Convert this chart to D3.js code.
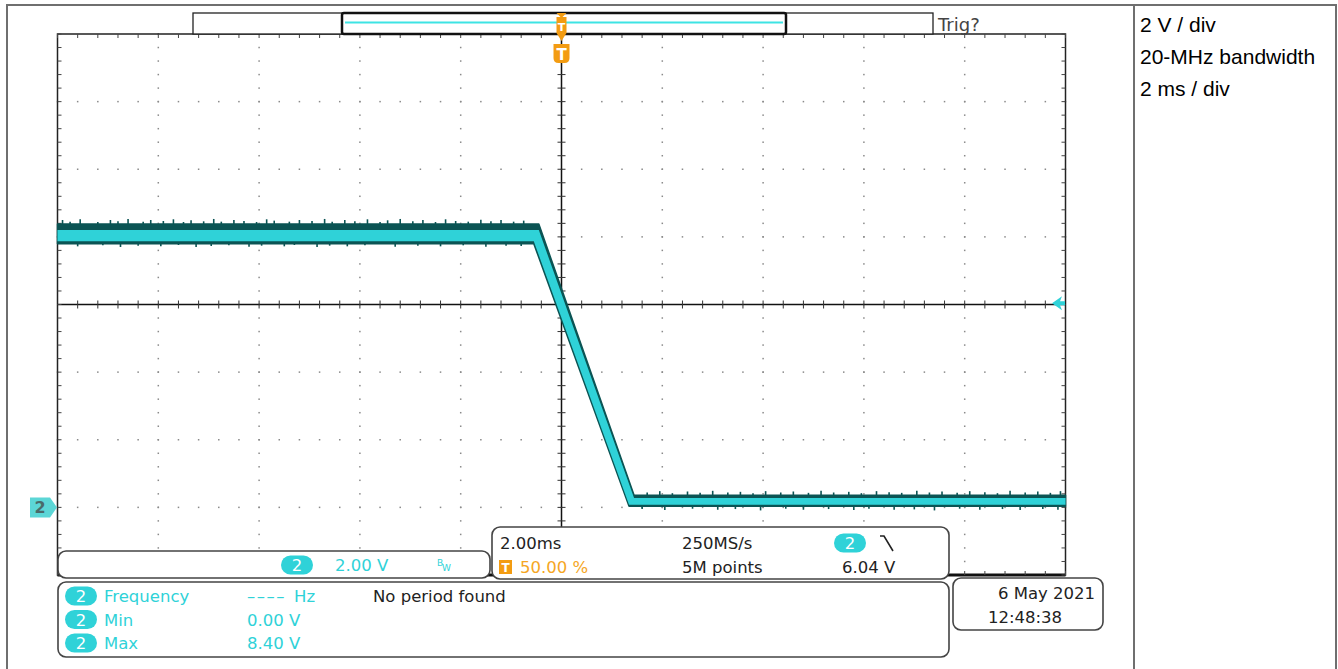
<!DOCTYPE html>
<html><head><meta charset="utf-8">
<script src="https://cdn.jsdelivr.net/npm/d3@7"></script>
<style>
html,body{margin:0;padding:0;background:#fff;}
svg{display:block;}
</style></head>
<body>
<svg id="c" width="1338" height="669"></svg>
<script>
// ---------- data ----------
const timeDomain = [-10, 10];          // ms, 2 ms/div, trigger at centre
const voltDomain = [-2, 14];           // V, 2 V/div, ground 3 div below centre
const hiEdgeT   = [-10, -0.45, 1.44, 10];     // ms, knees of upper envelope
const loEdgeT   = [-10, -0.55, 1.34, 10];     // ms, knees of lower envelope
const outerHi   = [8.38, 8.38, 0.36, 0.36];   // V, top of noise band
const outerLo   = [7.80, 7.80, 0.03, 0.03];   // V, bottom of noise band
const coreHi    = [8.20, 8.20, 0.28, 0.28];   // V, bright core top
const coreLo    = [7.87, 7.87, 0.08, 0.08];   // V, bright core bottom
// noise spikes: [time ms, peak V]
const hiTopSpikes = [[-9.9,8.5],[-9.75,8.45],[-9.55,8.52],[-9.2,8.44],[-8.95,8.5],[-8.8,8.46],[-8.6,8.53],[-8.3,8.45],[-8.15,8.5],[-7.9,8.47],[-7.7,8.52],[-7.5,8.44],[-7.35,8.49],[-7.1,8.46],[-6.9,8.53],[-6.75,8.45],[-6.5,8.5],[-6.3,8.47],[-6.05,8.44],[-5.85,8.52],[-5.7,8.48],[-5.4,8.45],[-5.2,8.5],[-4.95,8.47],[-4.7,8.53],[-4.55,8.45],[-4.3,8.5],[-4.1,8.46],[-3.85,8.52],[-3.6,8.44],[-3.45,8.49],[-3.2,8.53],[-2.95,8.46],[-2.75,8.5],[-2.5,8.44],[-2.3,8.52],[-2.1,8.47],[-1.85,8.45],[-1.6,8.51],[-1.4,8.46],[-1.2,8.5],[-0.95,8.45],[-0.75,8.48]];
const hiBotSpikes = [[-9.6,7.72],[-9.1,7.75],[-8.75,7.7],[-8.4,7.74],[-7.95,7.72],[-7.6,7.76],[-7.25,7.7],[-6.95,7.73],[-6.6,7.75],[-6.2,7.71],[-5.95,7.74],[-5.5,7.72],[-5.3,7.76],[-4.85,7.7],[-4.6,7.74],[-4.25,7.72],[-3.9,7.75],[-3.3,7.71],[-2.85,7.74],[-2.4,7.72],[-1.95,7.75],[-1.5,7.71],[-1.1,7.74],[-0.8,7.73]];
const loTopSpikes = [[1.7,0.44],[1.95,0.48],[2.2,0.42],[2.5,0.47],[2.75,0.43],[3.0,0.49],[3.3,0.44],[3.55,0.46],[3.8,0.42],[4.05,0.48],[4.35,0.44],[4.6,0.47],[4.9,0.43],[5.15,0.49],[5.4,0.44],[5.7,0.46],[5.95,0.42],[6.25,0.48],[6.5,0.45],[6.75,0.43],[7.05,0.49],[7.3,0.44],[7.55,0.47],[7.85,0.43],[8.1,0.48],[8.4,0.45],[8.65,0.42],[8.9,0.49],[9.2,0.44],[9.45,0.47],[9.7,0.43],[9.9,0.48]];
const loBotSpikes = [[1.6,-0.05],[2.05,-0.08],[2.6,-0.04],[3.1,-0.07],[3.45,-0.05],[3.95,-0.09],[4.45,-0.04],[4.8,-0.07],[5.3,-0.05],[5.8,-0.08],[6.1,-0.04],[6.6,-0.07],[7.0,-0.06],[7.4,-0.09],[7.9,-0.04],[8.3,-0.07],[8.75,-0.05],[9.1,-0.08],[9.55,-0.05],[9.85,-0.07]];
const triggerLevel = 6.04;
const rightNotes = ["2 V / div", "20-MHz bandwidth", "2 ms / div"];
const measNames  = ["Frequency", "Min", "Max"];
const measValues = ["---- Hz", "0.00 V", "8.40 V"];
const timebase = {scale: "2.00ms", rate: "250MS/s", pos: "50.00 %", rec: "5M points", trig: "6.04 V"};
const chScale = "2.00 V";
const dateLines = ["6 May  2021", "12:48:38"];

// ---------- drawing ----------
const svg = d3.select("#c");
const FONT = "'DejaVu Sans',sans-serif";
const CY = "#2fd2d8", DARK = "#0b5454", ORANGE = "#f39c12";
const L = 57.5, R = 1065.5, T = 34, B = 575;
const x = d3.scaleLinear().domain(timeDomain).range([L, R]);
const y = d3.scaleLinear().domain(voltDomain).range([B, T]);

// outer frame
svg.append("rect").attr("x",7).attr("y",5).attr("width",1329).attr("height",680)
  .attr("fill","none").attr("stroke","#6f6f6f").attr("stroke-width",2);
svg.append("line").attr("x1",1134).attr("x2",1134).attr("y1",5).attr("y2",669)
  .attr("stroke","#6f6f6f").attr("stroke-width",2);
svg.selectAll("text.note").data(rightNotes).join("text")
  .attr("x",1140).attr("y",(d,i)=>32+i*32).style("font-family","'Liberation Sans',Arial,sans-serif")
  .style("font-size","21px").attr("fill","#000").text(d=>d);

const g = svg.append("g");
const majorX = d3.range(timeDomain[0], timeDomain[1]+0.001, 2);
const majorY = d3.range(voltDomain[0], voltDomain[1]+0.001, 2);
const minorX = d3.range(timeDomain[0], timeDomain[1]+0.001, 0.4);
const minorY = d3.range(voltDomain[0], voltDomain[1]+0.001, 0.4);

// dotted graticule
majorX.filter(v=>v!==timeDomain[0]&&v!==timeDomain[1]&&Math.abs(v)>1e-9).forEach(v=>{
  g.selectAll(null).data(minorY).join("rect")
   .attr("x",x(v)-0.75).attr("y",d=>y(d)-0.75).attr("width",1.5).attr("height",1.5).attr("fill","#8a8a8a");
});
majorY.filter(v=>v!==voltDomain[0]&&v!==voltDomain[1]&&Math.abs(v-6)>1e-9).forEach(v=>{
  g.selectAll(null).data(minorX).join("rect")
   .attr("x",d=>x(d)-0.75).attr("y",y(v)-0.75).attr("width",1.5).attr("height",1.5).attr("fill","#8a8a8a");
});
// centre axes with ticks
g.append("line").attr("x1",L).attr("x2",R).attr("y1",y(6)).attr("y2",y(6)).attr("stroke","#111").attr("stroke-width",1.5);
g.append("line").attr("x1",x(0)).attr("x2",x(0)).attr("y1",T).attr("y2",B).attr("stroke","#111").attr("stroke-width",1.5);
g.selectAll(null).data(minorX).join("line")
  .attr("x1",d=>x(d)).attr("x2",d=>x(d)).attr("y1",y(6)-4).attr("y2",y(6)+4).attr("stroke","#333").attr("stroke-width",1);
g.selectAll(null).data(minorY).join("line")
  .attr("y1",d=>y(d)).attr("y2",d=>y(d)).attr("x1",x(0)-4).attr("x2",x(0)+4).attr("stroke","#333").attr("stroke-width",1);
// border with inward ticks
g.append("rect").attr("x",L).attr("y",T).attr("width",R-L).attr("height",B-T)
  .attr("fill","none").attr("stroke","#222").attr("stroke-width",1.5);
g.append("line").attr("x1",L).attr("x2",R).attr("y1",B).attr("y2",B).attr("stroke","#111").attr("stroke-width",3);
g.selectAll(null).data(minorX).join("line")
  .attr("x1",d=>x(d)).attr("x2",d=>x(d)).attr("y1",T).attr("y2",T+4).attr("stroke","#444");
g.selectAll(null).data(minorX).join("line")
  .attr("x1",d=>x(d)).attr("x2",d=>x(d)).attr("y1",B).attr("y2",B-4).attr("stroke","#444");
g.selectAll(null).data(minorY).join("line")
  .attr("y1",d=>y(d)).attr("y2",d=>y(d)).attr("x1",L).attr("x2",L+4).attr("stroke","#444");
g.selectAll(null).data(minorY).join("line")
  .attr("y1",d=>y(d)).attr("y2",d=>y(d)).attr("x1",R).attr("x2",R-4).attr("stroke","#444");

// trace
const band = (hi, lo) => {
  const up = hiEdgeT.map((t,i)=>[x(t), y(hi[i])]);
  const dn = loEdgeT.map((t,i)=>[x(t), y(lo[i])]).reverse();
  return d3.line()(up.concat(dn)) + "Z";
};
const spikes = (arr, base) => g.selectAll(null).data(arr).join("line")
  .attr("x1",d=>x(d[0])).attr("x2",d=>x(d[0])).attr("y1",y(base)).attr("y2",d=>y(d[1]))
  .attr("stroke",DARK).attr("stroke-width",1.6);
spikes(hiTopSpikes, outerHi[0]);
spikes(hiBotSpikes, outerLo[0]);
spikes(loTopSpikes, outerHi[3]);
spikes(loBotSpikes, outerLo[3]);
g.append("path").attr("d",band(outerHi, outerLo)).attr("fill",DARK)
  .attr("stroke",DARK).attr("stroke-width",1.5).attr("stroke-linejoin","round");
g.append("path").attr("d",band(coreHi, coreLo)).attr("fill",CY);

// ground marker
const gy = y(0);
svg.append("path").attr("d",`M30,${gy-10} L50,${gy-10} L57,${gy} L50,${gy+10} L30,${gy+10} Z`).attr("fill","#5cd6d6");
svg.append("text").attr("x",40).attr("y",gy+6).attr("text-anchor","middle").style("font-family",FONT).style("font-size","16px")
  .attr("font-weight","bold").attr("fill","#4a6a6a").text("2");
// trigger level marker
const ty = y(triggerLevel);
svg.append("path").attr("d",`M1052,${ty} L1062,${ty-7} L1060,${ty-2} L1065,${ty-2} L1065,${ty+2} L1060,${ty+2} L1062,${ty+7} Z`).attr("fill",CY);

// record bar
svg.append("rect").attr("x",193).attr("y",13).attr("width",740).attr("height",21).attr("fill","#fff").attr("stroke","#222").attr("stroke-width",1.3);
svg.append("rect").attr("x",342).attr("y",13).attr("width",444).attr("height",21).attr("fill","#fff").attr("stroke","#111").attr("stroke-width",2.5).attr("rx",2);
svg.append("line").attr("x1",345).attr("x2",783).attr("y1",22.5).attr("y2",22.5).attr("stroke","#3ee4e4").attr("stroke-width",2.2);
svg.append("text").attr("x",938).attr("y",31).style("font-family",FONT).style("font-size","18px").attr("fill","#444").text("Trig?");
// trigger position markers
const tx = x(0);
svg.append("path").attr("d",`M${tx-5},13 L${tx+5},13 L${tx},18 Z`).attr("fill",ORANGE);
svg.append("rect").attr("x",tx-5).attr("y",17).attr("width",10).attr("height",16).attr("fill",ORANGE);
svg.append("path").attr("d",`M${tx-5},33 L${tx+5},33 L${tx},41 Z`).attr("fill",ORANGE);
svg.append("text").attr("x",tx).attr("y",31).attr("text-anchor","middle").style("font-family",FONT).style("font-size","11px").attr("font-weight","bold").attr("fill","#fff").text("T");
svg.append("path").attr("d",`M${tx-8},44 L${tx+8},44 L${tx+8},58 Q${tx+8},63 ${tx+3},63 L${tx-3},63 Q${tx-8},63 ${tx-8},58 Z`).attr("fill",ORANGE);
svg.append("text").attr("x",tx).attr("y",60).attr("text-anchor","middle").style("font-family",FONT).style("font-size","15px").attr("font-weight","bold").attr("fill","#fff").text("T");

// info boxes
const box = (x0,y0,w,h) => svg.append("rect").attr("x",x0).attr("y",y0).attr("width",w).attr("height",h)
  .attr("rx",8).attr("fill","#fff").attr("stroke","#444").attr("stroke-width",1.6);
const pill = (cx, cy) => {
  svg.append("rect").attr("x",cx-16).attr("y",cy-9.5).attr("width",32).attr("height",19).attr("rx",9.5).attr("fill",CY);
  svg.append("text").attr("x",cx).attr("y",cy+6).attr("text-anchor","middle").style("font-family",FONT).style("font-size","16.5px").attr("fill","#fff").text("2");
};
const txt = (s, x0, y0, col, anchor) => svg.append("text").attr("x",x0).attr("y",y0)
  .style("font-family",FONT).style("font-size","16.5px")
  .attr("fill",col).attr("text-anchor",anchor||"start").text(s);

box(58,551,432,27);
pill(297,565);
txt(chScale,335,571,CY);
svg.append("text").attr("x",437).attr("y",566).style("font-family",FONT).style("font-size","9px").attr("fill",CY).text("B");
svg.append("text").attr("x",442).attr("y",571).style("font-family",FONT).style("font-size","9px").attr("fill",CY).text("W");

box(492,527,457,52);
txt(timebase.scale,500,549,"#222");
txt(timebase.rate,682,549,"#222");
pill(850,543);
svg.append("path").attr("d","M880,536 L884,536 L893,551").attr("fill","none").attr("stroke","#222").attr("stroke-width",1.6);
svg.append("rect").attr("x",499).attr("y",560).attr("width",13).attr("height",14).attr("fill",ORANGE);
svg.append("text").attr("x",505.5).attr("y",572).attr("text-anchor","middle").style("font-family",FONT).style("font-size","12px").attr("font-weight","bold").attr("fill","#fff").text("T");
txt(timebase.pos,520,573,"#f5a623");
txt(timebase.rec,682,573,"#222");
txt(timebase.trig,842,573,"#222");

box(58,582,891,75);
measNames.forEach((n,i)=>{
  const cy = 596 + i*23.5;
  pill(81, cy);
  txt(n,104,cy+6,CY);
  const val = measValues[i];
  const m = val.match(/^(-+)\s(.*)$/);
  if (m) {
    const t = txt("",247,cy+6,CY);
    t.append("tspan").style("letter-spacing","1.5px").text(m[1].replace(/-/g,"\u2013"));
    t.append("tspan").attr("dx",8).text(m[2]);
  } else {
    txt(val,247,cy+6,CY);
  }
});
txt("No period found",373,602,"#222");

box(953,578,150,52);
txt(dateLines[0],1095,599,"#222","end");
txt(dateLines[1],988,623,"#222");
</script>
</body></html>
